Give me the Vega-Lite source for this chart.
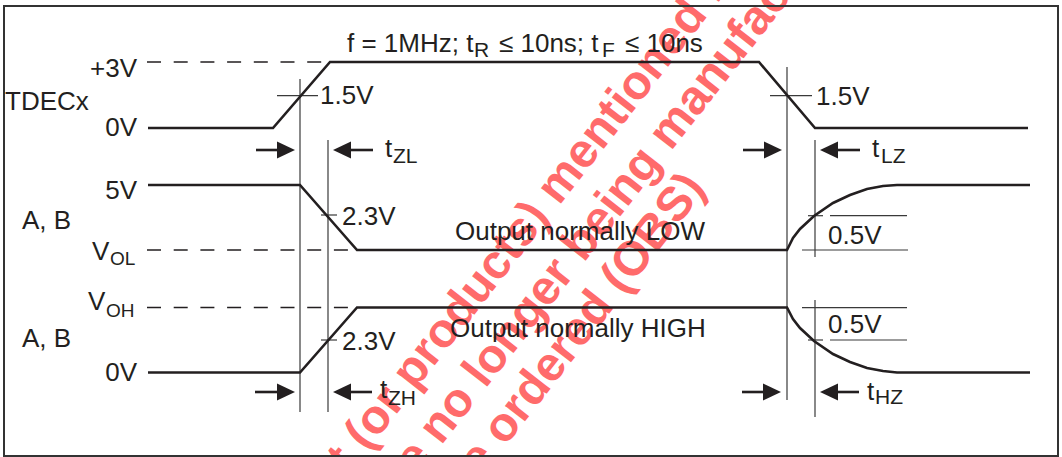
{
  "$schema": "https://vega.github.io/schema/vega-lite/v6.json",
  "width": 1062,
  "height": 457,
  "padding": 0,
  "autosize": {"type": "none"},
  "background": "white",
  "config": {"view": {"stroke": null}},
  "datasets": {
    "wm": [
      {"x": 367, "y": 452, "s": "This product", "p": "lead"},
      {"x": 367, "y": 452, "s": "(or products) mentioned herein", "p": "rest"},
      {"x": 441, "y": 446, "s": "may be", "p": "lead"},
      {"x": 441, "y": 446, "s": "no longer being manufactured", "p": "rest"},
      {"x": 505, "y": 447, "s": "cannot be", "p": "lead"},
      {"x": 505, "y": 447, "s": "ordered (OBS)", "p": "rest"}
    ],
    "box": [{"x": 4, "y": 6, "x2": 1058, "y2": 456}],
    "segs": [
      {"x": 147, "y": 62, "x2": 330, "y2": 62, "k": "dash"},
      {"x": 147, "y": 250, "x2": 357, "y2": 250, "k": "dash"},
      {"x": 147, "y": 307.5, "x2": 357, "y2": 307.5, "k": "dash"},
      {"x": 300, "y": 79, "x2": 300, "y2": 412, "k": "thin"},
      {"x": 328, "y": 140, "x2": 328, "y2": 412, "k": "thin"},
      {"x": 787, "y": 67, "x2": 787, "y2": 400, "k": "thin"},
      {"x": 815, "y": 140, "x2": 815, "y2": 257, "k": "thin"},
      {"x": 815, "y": 300, "x2": 815, "y2": 417, "k": "thin"},
      {"x": 277, "y": 95.7, "x2": 318, "y2": 95.7, "k": "thin"},
      {"x": 770, "y": 95.7, "x2": 812, "y2": 95.7, "k": "thin"},
      {"x": 321, "y": 215, "x2": 337, "y2": 215, "k": "thin"},
      {"x": 321, "y": 340, "x2": 337, "y2": 340, "k": "thin"},
      {"x": 808, "y": 215.7, "x2": 823, "y2": 215.7, "k": "thin"},
      {"x": 830, "y": 215.7, "x2": 907, "y2": 215.7, "k": "thin"},
      {"x": 802, "y": 250, "x2": 908, "y2": 250, "k": "thin"},
      {"x": 802, "y": 307.7, "x2": 907, "y2": 307.7, "k": "thin"},
      {"x": 808, "y": 340, "x2": 823, "y2": 340, "k": "thin"},
      {"x": 830, "y": 340, "x2": 907, "y2": 340, "k": "thin"},
      {"x": 256, "y": 150, "x2": 285, "y2": 150, "k": "arrow"},
      {"x": 343, "y": 150, "x2": 373, "y2": 150, "k": "arrow"},
      {"x": 743, "y": 150, "x2": 772, "y2": 150, "k": "arrow"},
      {"x": 830, "y": 150, "x2": 860, "y2": 150, "k": "arrow"},
      {"x": 255, "y": 392, "x2": 285, "y2": 392, "k": "arrow"},
      {"x": 343, "y": 392, "x2": 372, "y2": 392, "k": "arrow"},
      {"x": 742, "y": 392, "x2": 771, "y2": 392, "k": "arrow"},
      {"x": 830, "y": 392, "x2": 859, "y2": 392, "k": "arrow"}
    ],
    "heads": [
      {"x": 295, "y": 150, "d": "right"},
      {"x": 333, "y": 150, "d": "left"},
      {"x": 782, "y": 150, "d": "right"},
      {"x": 820, "y": 150, "d": "left"},
      {"x": 295, "y": 392, "d": "right"},
      {"x": 333, "y": 392, "d": "left"},
      {"x": 781, "y": 392, "d": "right"},
      {"x": 820, "y": 392, "d": "left"}
    ],
    "waves": [
      {"g": "tdec", "i": 1, "x": 148, "y": 128},
      {"g": "tdec", "i": 2, "x": 273, "y": 128},
      {"g": "tdec", "i": 3, "x": 330, "y": 62},
      {"g": "tdec", "i": 4, "x": 759, "y": 62},
      {"g": "tdec", "i": 5, "x": 815, "y": 128},
      {"g": "tdec", "i": 6, "x": 1028, "y": 128},
      {"g": "abL", "i": 1, "x": 148, "y": 185},
      {"g": "abL", "i": 2, "x": 300, "y": 185},
      {"g": "abL", "i": 3, "x": 357, "y": 250},
      {"g": "abL", "i": 4, "x": 787, "y": 250},
      {"g": "abL", "i": 5, "x": 793, "y": 238},
      {"g": "abL", "i": 6, "x": 800, "y": 229},
      {"g": "abL", "i": 7, "x": 814, "y": 216},
      {"g": "abL", "i": 8, "x": 833, "y": 203},
      {"g": "abL", "i": 9, "x": 850, "y": 195},
      {"g": "abL", "i": 10, "x": 867, "y": 189},
      {"g": "abL", "i": 11, "x": 883, "y": 186},
      {"g": "abL", "i": 12, "x": 897, "y": 185},
      {"g": "abL", "i": 13, "x": 1030, "y": 185},
      {"g": "abH", "i": 1, "x": 148, "y": 372.5},
      {"g": "abH", "i": 2, "x": 300, "y": 372.5},
      {"g": "abH", "i": 3, "x": 357, "y": 307.5},
      {"g": "abH", "i": 4, "x": 787, "y": 307.5},
      {"g": "abH", "i": 5, "x": 793, "y": 319},
      {"g": "abH", "i": 6, "x": 800, "y": 328},
      {"g": "abH", "i": 7, "x": 814, "y": 341},
      {"g": "abH", "i": 8, "x": 833, "y": 354},
      {"g": "abH", "i": 9, "x": 850, "y": 362},
      {"g": "abH", "i": 10, "x": 867, "y": 368},
      {"g": "abH", "i": 11, "x": 883, "y": 371},
      {"g": "abH", "i": 12, "x": 897, "y": 372.5},
      {"g": "abH", "i": 13, "x": 1030, "y": 372.5}
    ],
    "texts": [
      {"x": 347, "y": 52, "s": "f = 1MHz; t", "r": "L"},
      {"x": 474, "y": 57, "s": "R", "r": "TS"},
      {"x": 499, "y": 52, "s": "≤ 10ns; t", "r": "L"},
      {"x": 602, "y": 57, "s": "F", "r": "TS"},
      {"x": 625, "y": 52, "s": "≤ 10ns", "r": "L"},
      {"x": 137, "y": 77, "s": "+3V", "r": "R"},
      {"x": 137, "y": 136, "s": "0V", "r": "R"},
      {"x": 137, "y": 199, "s": "5V", "r": "R"},
      {"x": 137, "y": 381, "s": "0V", "r": "R"},
      {"x": 5, "y": 110, "s": "TDECx", "r": "L"},
      {"x": 22, "y": 229, "s": "A, B", "r": "L"},
      {"x": 22, "y": 347, "s": "A, B", "r": "L"},
      {"x": 92, "y": 260, "s": "V", "r": "L"},
      {"x": 110, "y": 265, "s": "OL", "r": "S"},
      {"x": 88, "y": 310, "s": "V", "r": "L"},
      {"x": 106, "y": 317, "s": "OH", "r": "S"},
      {"x": 320, "y": 104, "s": "1.5V", "r": "L"},
      {"x": 816, "y": 105, "s": "1.5V", "r": "L"},
      {"x": 385, "y": 157, "s": "t", "r": "L"},
      {"x": 393, "y": 163, "s": "ZL", "r": "TS"},
      {"x": 872, "y": 157, "s": "t", "r": "L"},
      {"x": 881, "y": 163, "s": "LZ", "r": "TS"},
      {"x": 342, "y": 225, "s": "2.3V", "r": "L"},
      {"x": 342, "y": 350, "s": "2.3V", "r": "L"},
      {"x": 455, "y": 240, "s": "Output normally LOW", "r": "L"},
      {"x": 450, "y": 337, "s": "Output normally HIGH", "r": "L"},
      {"x": 828, "y": 244, "s": "0.5V", "r": "L"},
      {"x": 828, "y": 333, "s": "0.5V", "r": "L"},
      {"x": 380, "y": 398, "s": "t", "r": "L"},
      {"x": 388, "y": 405, "s": "ZH", "r": "TS"},
      {"x": 867, "y": 400, "s": "t", "r": "L"},
      {"x": 875, "y": 404, "s": "HZ", "r": "TS"}
    ]
  },
  "encoding": {
    "x": {"field": "x", "type": "quantitative", "scale": {"domain": [0, 1062], "nice": false, "zero": false}, "axis": null},
    "y": {"field": "y", "type": "quantitative", "scale": {"domain": [0, 457], "reverse": true, "nice": false, "zero": false}, "axis": null}
  },
  "layer": [
    {
      "data": {"name": "wm"},
      "transform": [{"filter": "datum.p === 'lead'"}],
      "mark": {"type": "text", "align": "right", "baseline": "alphabetic", "angle": 308, "dx": -13, "font": "Liberation Sans", "fontWeight": "bold", "fontSize": 48, "color": "#ff6b6b"},
      "encoding": {"text": {"field": "s"}}
    },
    {
      "data": {"name": "wm"},
      "transform": [{"filter": "datum.p === 'rest'"}],
      "mark": {"type": "text", "align": "left", "baseline": "alphabetic", "angle": 308, "font": "Liberation Sans", "fontWeight": "bold", "fontSize": 48, "color": "#ff6b6b"},
      "encoding": {"text": {"field": "s"}}
    },
    {
      "data": {"name": "box"},
      "mark": {"type": "rect", "filled": false, "stroke": "#333333", "strokeWidth": 2},
      "encoding": {"x2": {"field": "x2"}, "y2": {"field": "y2"}}
    },
    {
      "data": {"name": "segs"},
      "transform": [{"filter": "datum.k === 'dash'"}],
      "mark": {"type": "rule", "stroke": "#231f20", "strokeWidth": 1.3, "strokeDash": [14, 12.7]},
      "encoding": {"x2": {"field": "x2"}, "y2": {"field": "y2"}}
    },
    {
      "data": {"name": "segs"},
      "transform": [{"filter": "datum.k === 'thin'"}],
      "mark": {"type": "rule", "stroke": "#3a3a3a", "strokeWidth": 1.2},
      "encoding": {"x2": {"field": "x2"}, "y2": {"field": "y2"}}
    },
    {
      "data": {"name": "segs"},
      "transform": [{"filter": "datum.k === 'arrow'"}],
      "mark": {"type": "rule", "stroke": "#231f20", "strokeWidth": 2.6},
      "encoding": {"x2": {"field": "x2"}, "y2": {"field": "y2"}}
    },
    {
      "data": {"name": "waves"},
      "mark": {"type": "line", "stroke": "#231f20", "strokeWidth": 2.6, "strokeJoin": "miter"},
      "encoding": {"detail": {"field": "g"}, "order": {"field": "i", "type": "quantitative"}}
    },
    {
      "data": {"name": "heads"},
      "mark": {"type": "point", "filled": true, "fill": "#231f20", "strokeWidth": 0, "opacity": 1, "size": 324},
      "encoding": {
        "shape": {"field": "d", "type": "nominal", "scale": {"domain": ["right", "left"], "range": ["M0,0L-2,-0.95L-2,0.95Z", "M0,0L2,-0.95L2,0.95Z"]}, "legend": null}
      }
    },
    {
      "data": {"name": "texts"},
      "transform": [{"filter": "datum.r === 'L'"}],
      "mark": {"type": "text", "align": "left", "baseline": "alphabetic", "font": "Liberation Sans", "fontSize": 26, "color": "#231f20"},
      "encoding": {"text": {"field": "s"}}
    },
    {
      "data": {"name": "texts"},
      "transform": [{"filter": "datum.r === 'R'"}],
      "mark": {"type": "text", "align": "right", "baseline": "alphabetic", "font": "Liberation Sans", "fontSize": 26, "color": "#231f20"},
      "encoding": {"text": {"field": "s"}}
    },
    {
      "data": {"name": "texts"},
      "transform": [{"filter": "datum.r === 'S'"}],
      "mark": {"type": "text", "align": "left", "baseline": "alphabetic", "font": "Liberation Sans", "fontSize": 19, "color": "#231f20"},
      "encoding": {"text": {"field": "s"}}
    },
    {
      "data": {"name": "texts"},
      "transform": [{"filter": "datum.r === 'TS'"}],
      "mark": {"type": "text", "align": "left", "baseline": "alphabetic", "font": "Liberation Sans", "fontSize": 21, "color": "#231f20"},
      "encoding": {"text": {"field": "s"}}
    }
  ]
}
